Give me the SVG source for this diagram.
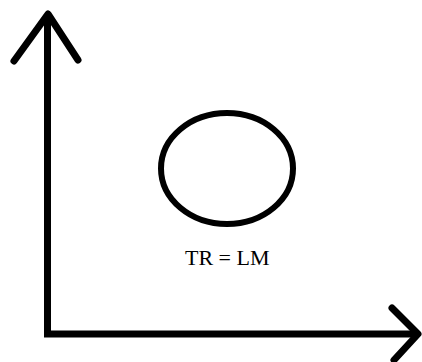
<svg xmlns="http://www.w3.org/2000/svg" width="422" height="362" viewBox="0 0 422 362">
<style>
.ln{fill:none;stroke:#000;stroke-width:7}
.lbl{font-family:"Liberation Serif","Times New Roman",serif;font-size:22px;fill:#000}
</style>
<rect width="422" height="362" fill="#fff"/>
<g id="connectors">
<polyline class="ln" points="47.5,14 47.5,334 417,334" stroke-linejoin="miter"/>
<polyline class="ln" points="14,61 48,14 78,60" stroke-linecap="round" stroke-linejoin="round"/>
<polyline class="ln" points="392,308 418,334 394,360" stroke-linecap="round" stroke-linejoin="round"/>
</g>
<g id="circle">
<ellipse cx="227" cy="168.5" rx="66" ry="55.5" fill="none" stroke="#000" stroke-width="6"/>
</g>
<g id="label">
<text class="lbl" x="185" y="265">TR = LM</text>
</g>
</svg>
